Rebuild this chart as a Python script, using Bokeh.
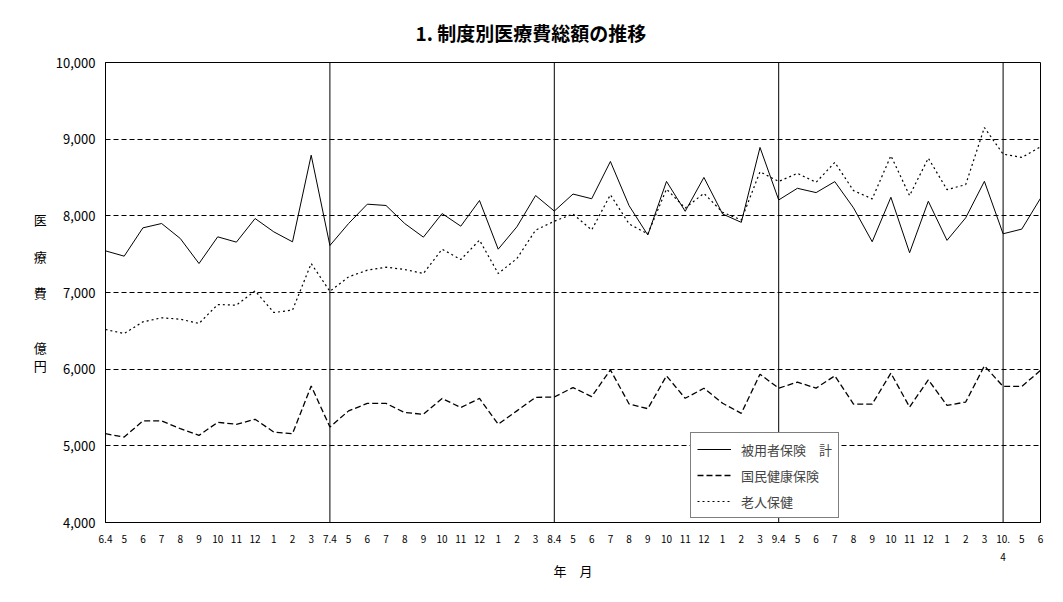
from bokeh.plotting import figure
from bokeh.models import (ColumnDataSource, FixedTicker, Span, Legend, LegendItem,
                          CustomJSTickFormatter)
from bokeh.embed import file_html
from bokeh.resources import INLINE

# ---- data ----
months = ["6.4", "5", "6", "7", "8", "9", "10", "11", "12", "1", "2", "3",
          "7.4", "5", "6", "7", "8", "9", "10", "11", "12", "1", "2", "3",
          "8.4", "5", "6", "7", "8", "9", "10", "11", "12", "1", "2", "3",
          "9.4", "5", "6", "7", "8", "9", "10", "11", "12", "1", "2", "3",
          "10.\n4", "5", "6"]

employee = [7543, 7474, 7843, 7900, 7704, 7378, 7726, 7657, 7965, 7791, 7661, 8791,
            7613, 7900, 8152, 8135, 7900, 7722, 8030, 7865, 8200, 7565, 7857, 8265,
            8062, 8284, 8223, 8709, 8132, 7750, 8449, 8059, 8501, 8024, 7915, 8892,
            8207, 8359, 8303, 8446, 8104, 7662, 8242, 7519, 8190, 7680, 7974, 8450,
            7766, 7827, 8229]

national = [5158, 5114, 5325, 5325, 5224, 5136, 5307, 5281, 5346, 5180, 5158, 5781,
            5246, 5456, 5553, 5553, 5434, 5412, 5618, 5500, 5618, 5281, 5456, 5632,
            5637, 5760, 5642, 5991, 5546, 5485, 5913, 5620, 5751, 5555, 5424, 5934,
            5752, 5831, 5753, 5913, 5545, 5545, 5948, 5506, 5861, 5528, 5571, 6043,
            5775, 5775, 5983]

elderly = [6517, 6465, 6617, 6670, 6652, 6596, 6843, 6835, 7022, 6739, 6770, 7378,
           7015, 7204, 7291, 7330, 7300, 7248, 7565, 7430, 7683, 7248, 7443, 7813,
           7930, 8024, 7816, 8275, 7894, 7764, 8349, 8102, 8293, 8046, 7946, 8575,
           8448, 8554, 8437, 8697, 8329, 8221, 8784, 8264, 8753, 8342, 8407, 9152,
           8805, 8762, 8900]

fiscal_year_starts = [12, 24, 36, 48]
y_ticks = [4000, 5000, 6000, 7000, 8000, 9000, 10000]
y_grid = [5000, 6000, 7000, 8000, 9000]

series_names = ["被用者保険　計", "国民健康保険", "老人保健"]
title_text = "1. 制度別医療費総額の推移"
y_label_lines = ["医", "　", "療", "　", "費", "　", "　", "億", "円"]
x_label = "年　月"

# ---- layout constants ----
W, H = 1063, 602
FL, FR, FT, FB = 105, 1040, 61, 522
JP = "Noto Sans CJK JP"

idx = list(range(len(months)))
src = ColumnDataSource(dict(x=idx, emp=employee, nat=national, eld=elderly))

p = figure(width=W, height=H, output_backend="svg", toolbar_location=None,
           x_range=(0, len(months) - 1), y_range=(4000, 10000),
           min_border_left=FL, min_border_right=W - FR,
           min_border_top=FT, min_border_bottom=H - FB)
p.background_fill_color = "white"
p.border_fill_color = "white"
p.outline_line_color = "black"
p.outline_line_width = 1

# title
p.title.text = title_text
p.title.text_font = JP
p.title.text_font_size = "19px"
p.title.text_font_style = "bold"
p.title.text_color = "black"
p.title.align = "left"
p.title.offset = 310
p.title.standoff = 33

# axes
p.yaxis.ticker = FixedTicker(ticks=y_ticks)
p.yaxis.formatter = CustomJSTickFormatter(code="return tick.toLocaleString('en-US');")
p.yaxis.major_label_text_font = JP
p.yaxis.major_label_text_font_size = "13px"
p.yaxis.major_label_text_color = "black"
p.yaxis.major_tick_in = 4
p.yaxis.major_tick_out = 0
p.yaxis.minor_tick_line_color = None
p.yaxis.axis_line_color = "black"
p.yaxis.major_label_standoff = 10
p.yaxis.axis_label = "\n".join(y_label_lines)
p.yaxis.axis_label_orientation = "horizontal"
p.yaxis.axis_label_text_font = JP
p.yaxis.axis_label_text_font_size = "13px"
p.yaxis.axis_label_text_font_style = "normal"
p.yaxis.axis_label_text_color = "black"
p.yaxis.axis_label_text_line_height = 0.96
p.yaxis.axis_label_standoff = 6

p.xaxis.ticker = FixedTicker(ticks=idx)
p.xaxis.major_label_overrides = {i: m for i, m in enumerate(months)}
p.xaxis.major_label_text_font = JP
p.xaxis.major_label_text_font_size = "10px"
p.xaxis.major_label_text_color = "black"
p.xaxis.major_tick_in = 0
p.xaxis.major_tick_out = 0
p.xaxis.minor_tick_line_color = None
p.xaxis.axis_line_color = "black"
p.xaxis.major_label_standoff = 8
p.xaxis.axis_label = x_label
p.xaxis.axis_label_text_font = JP
p.xaxis.axis_label_text_font_size = "13px"
p.xaxis.axis_label_text_font_style = "normal"
p.xaxis.axis_label_text_color = "black"
p.xaxis.axis_label_standoff = -6

p.xgrid.grid_line_color = None
p.ygrid.ticker = FixedTicker(ticks=y_grid)
p.ygrid.grid_line_color = "black"
p.ygrid.grid_line_dash = "5 3"
p.ygrid.grid_line_width = 1

for fx in fiscal_year_starts:
    p.add_layout(Span(location=fx, dimension="height", line_color="black", line_width=1))

r1 = p.line("x", "emp", source=src, line_color="black", line_width=1)
r2 = p.line("x", "nat", source=src, line_color="black", line_width=1.3, line_dash="6 3")
r3 = p.line("x", "eld", source=src, line_color="black", line_width=1.2, line_dash="2 3")

legend = Legend(items=[LegendItem(label=series_names[0], renderers=[r1]),
                       LegendItem(label=series_names[1], renderers=[r2]),
                       LegendItem(label=series_names[2], renderers=[r3])],
                location=(585, 4), orientation="vertical",
                label_text_font=JP, label_text_font_size="13px",
                glyph_width=34, glyph_height=20, label_height=20, label_standoff=10,
                spacing=6, padding=6, margin=0,
                border_line_color="black", border_line_width=1,
                background_fill_color="white", background_fill_alpha=1)
p.add_layout(legend, "center")

with open("out.html", "w") as f:
    f.write(file_html(p, INLINE))
